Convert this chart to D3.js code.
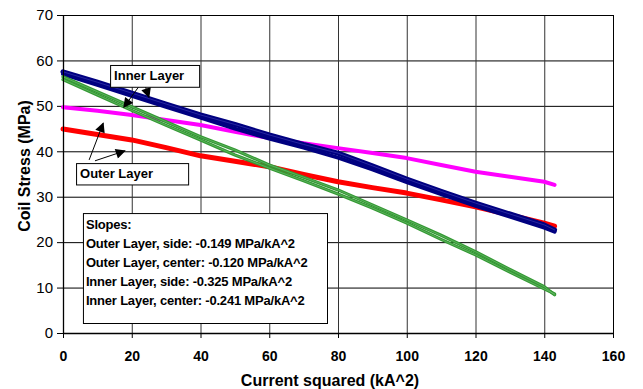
<!DOCTYPE html>
<html>
<head>
<meta charset="utf-8">
<script src="https://cdn.jsdelivr.net/npm/d3@7"></script>
<style>
  body { margin: 0; background: #fff; }
  text { font-family: Arial, "Liberation Sans", sans-serif; }
</style>
</head>
<body>
<div id="chart"></div>
<script>
// current squared (kA^2) sample points
var currentSq = [0, 10, 20, 30, 40, 50, 60, 70, 80, 90, 100, 110, 120, 130, 140, 143];

// coil stress (MPa)
var outerCenter = [49.7, 48.9, 48.0, 46.9, 45.8, 44.3, 42.9, 41.8, 40.7, 39.6, 38.5, 37.0, 35.5, 34.4, 33.3, 32.6];
var outerSide   = [44.9, 43.7, 42.5, 40.8, 39.0, 37.8, 36.6, 34.9, 33.3, 32.0, 30.8, 29.3, 27.8, 26.0, 24.2, 23.5];
var innerCenterUp   = [57.5, 55.2, 52.8, 50.4, 48.0, 45.9, 43.6, 41.5, 39.6, 36.8, 33.9, 31.2, 28.6, 26.2, 23.8, 22.7];
var innerCenterDown = [57.0, 54.6, 52.2, 49.8, 47.4, 45.0, 42.8, 40.8, 38.6, 36.0, 33.2, 30.6, 28.0, 25.6, 23.2, 22.3];
var innerSideUp   = [56.4, 53.1, 49.8, 46.5, 43.2, 40.3, 37.0, 34.3, 31.5, 28.2, 24.9, 21.5, 17.9, 14.0, 10.2, 8.4];
var innerSideDown = [55.8, 52.4, 49.0, 45.7, 42.5, 39.2, 36.3, 33.5, 30.6, 27.5, 24.2, 20.6, 17.2, 13.4, 9.7, 8.6];

// tick labels
var xTicks = [0, 20, 40, 60, 80, 100, 120, 140, 160];
var yTicks = [0, 10, 20, 30, 40, 50, 60, 70];

// slope notes
var slopeLines = [
  "Slopes:",
  "Outer Layer, side: -0.149 MPa/kA^2",
  "Outer Layer, center: -0.120 MPa/kA^2",
  "Inner Layer, side: -0.325 MPa/kA^2",
  "Inner Layer, center: -0.241 MPa/kA^2"
];

// Set Size of Chart
var svgWidth = 643;
var svgHeight = 389;
var margin = { top: 15, right: 30, bottom: 56, left: 63 };
var width = 613 - margin.left;
var height = 333 - margin.top;

var svg = d3.select("#chart")
  .append("svg")
  .attr("width", svgWidth)
  .attr("height", svgHeight);

var chartGroup = svg.append("g")
  .attr("transform", `translate(${margin.left}, ${margin.top})`);

var xScale = d3.scaleLinear().domain([0, 160]).range([0, width]);
var yScale = d3.scaleLinear().domain([0, 70]).range([height, 0]);

// grid lines
chartGroup.append("g")
  .selectAll("line")
  .data(yTicks)
  .enter()
  .append("line")
  .attr("x1", 0)
  .attr("x2", width)
  .attr("y1", d => yScale(d) + 0.5)
  .attr("y2", d => yScale(d) + 0.5)
  .attr("stroke", "#000")
  .attr("stroke-width", 1);

chartGroup.append("g")
  .selectAll("line")
  .data(xTicks)
  .enter()
  .append("line")
  .attr("x1", d => xScale(d) + 0.5)
  .attr("x2", d => xScale(d) + 0.5)
  .attr("y1", 0)
  .attr("y2", height)
  .attr("stroke", "#333")
  .attr("stroke-width", 1);

// axes
var bottomAxis = d3.axisBottom(xScale).tickValues(xTicks).tickSize(5).tickSizeOuter(0);
var leftAxis = d3.axisLeft(yScale).tickValues(yTicks).tickSize(6).tickSizeOuter(0);

var xAxis = chartGroup.append("g")
  .attr("transform", `translate(0, ${height})`)
  .call(bottomAxis);
xAxis.selectAll("text")
  .attr("dy", "1.45em")
  .style("font-size", "14px")
  .style("font-weight", "bold")
  .attr("fill", "#000");

var yAxis = chartGroup.append("g")
  .call(leftAxis);
yAxis.selectAll("text")
  .attr("x", -10)
  .style("font-size", "15px")
  .attr("fill", "#000");

svg.selectAll(".domain").attr("stroke", "#000").attr("stroke-width", 1.3);
svg.selectAll(".tick line").attr("stroke", "#000");

// data lines
var lineGen = d3.line()
  .x((d, i) => xScale(currentSq[i]))
  .y(d => yScale(d));

function drawTrace(values, color, w) {
  chartGroup.append("path")
    .datum(values)
    .attr("d", lineGen)
    .attr("fill", "none")
    .attr("stroke", color)
    .attr("stroke-width", w)
    .attr("stroke-linejoin", "round")
    .attr("stroke-linecap", "round");
}

drawTrace(outerCenter, "#ff00ff", 4);
drawTrace(outerSide, "#ff0000", 5);
drawTrace(innerCenterUp, "#000080", 5);
drawTrace(innerCenterDown, "#000080", 4);
drawTrace(innerCenterUp, "#3030a8", 0.8);
drawTrace(innerSideUp, "#339933", 3.2);
drawTrace(innerSideDown, "#339933", 3.2);
drawTrace(innerSideUp, "#76c076", 0.6);
drawTrace(innerSideDown, "#76c076", 0.6);

// arrow marker
svg.append("defs").append("marker")
  .attr("id", "arrow")
  .attr("viewBox", "0 0 10 10")
  .attr("refX", 9)
  .attr("refY", 5)
  .attr("markerWidth", 12)
  .attr("markerHeight", 10)
  .attr("markerUnits", "userSpaceOnUse")
  .attr("orient", "auto")
  .append("path")
  .attr("d", "M0,0 L10,5 L0,10 z")
  .attr("fill", "#000");

// annotation boxes (data units)
function labelBox(x0, x1, y0, y1, label) {
  chartGroup.append("rect")
    .attr("x", xScale(x0) + 0.5)
    .attr("y", yScale(y0) + 0.5)
    .attr("width", xScale(x1) - xScale(x0))
    .attr("height", yScale(y1) - yScale(y0))
    .attr("fill", "#fff")
    .attr("stroke", "#000")
    .attr("stroke-width", 1);
  chartGroup.append("text")
    .attr("x", xScale(x0) + 4)
    .attr("y", (yScale(y0) + yScale(y1)) / 2)
    .attr("dy", "0.35em")
    .style("font-size", "13px")
    .style("font-weight", "bold")
    .text(label);
}

function arrow(x0, y0, x1, y1) {
  chartGroup.append("line")
    .attr("x1", xScale(x0))
    .attr("y1", yScale(y0))
    .attr("x2", xScale(x1))
    .attr("y2", yScale(y1))
    .attr("stroke", "#000")
    .attr("stroke-width", 1)
    .attr("marker-end", "url(#arrow)");
}

arrow(22.4, 54.6, 17.7, 49.7);
arrow(23.9, 54.4, 25.0, 51.9);
arrow(7.6, 38.1, 11.7, 46.2);
arrow(9.3, 37.9, 18.0, 40.1);

labelBox(13.7, 39.6, 59.0, 54.2, "Inner Layer");
labelBox(3.8, 36.4, 37.4, 32.7, "Outer Layer");

// slopes box
chartGroup.append("rect")
  .attr("x", xScale(5.8) + 0.5)
  .attr("y", yScale(26.4) + 0.5)
  .attr("width", xScale(76.8) - xScale(5.8))
  .attr("height", yScale(2.2) - yScale(26.4))
  .attr("fill", "#fff")
  .attr("stroke", "#000")
  .attr("stroke-width", 1);

chartGroup.append("g")
  .selectAll("text")
  .data(slopeLines)
  .enter()
  .append("text")
  .attr("x", xScale(5.8) + 3)
  .attr("y", (d, i) => yScale(26.4) + 11 + i * 19)
  .attr("dy", "0.35em")
  .style("font-size", "13px")
  .style("font-weight", "bold")
  .style("letter-spacing", "-0.2px")
  .text(d => d);

// plot frame (top / right)
chartGroup.append("rect")
  .attr("x", 0.5)
  .attr("y", 0.5)
  .attr("width", width)
  .attr("height", height)
  .attr("fill", "none")
  .attr("stroke", "#000")
  .attr("stroke-width", 1);

// axis titles
svg.append("text")
  .attr("x", 330)
  .attr("y", 380)
  .attr("dy", "0.35em")
  .attr("text-anchor", "middle")
  .style("font-size", "16px")
  .style("font-weight", "bold")
  .text("Current squared (kA^2)");

svg.append("text")
  .attr("transform", "translate(24, 166) rotate(-90)")
  .attr("dy", "0.35em")
  .attr("text-anchor", "middle")
  .style("font-size", "16px")
  .style("font-weight", "bold")
  .text("Coil Stress (MPa)");
</script>
</body>
</html>
